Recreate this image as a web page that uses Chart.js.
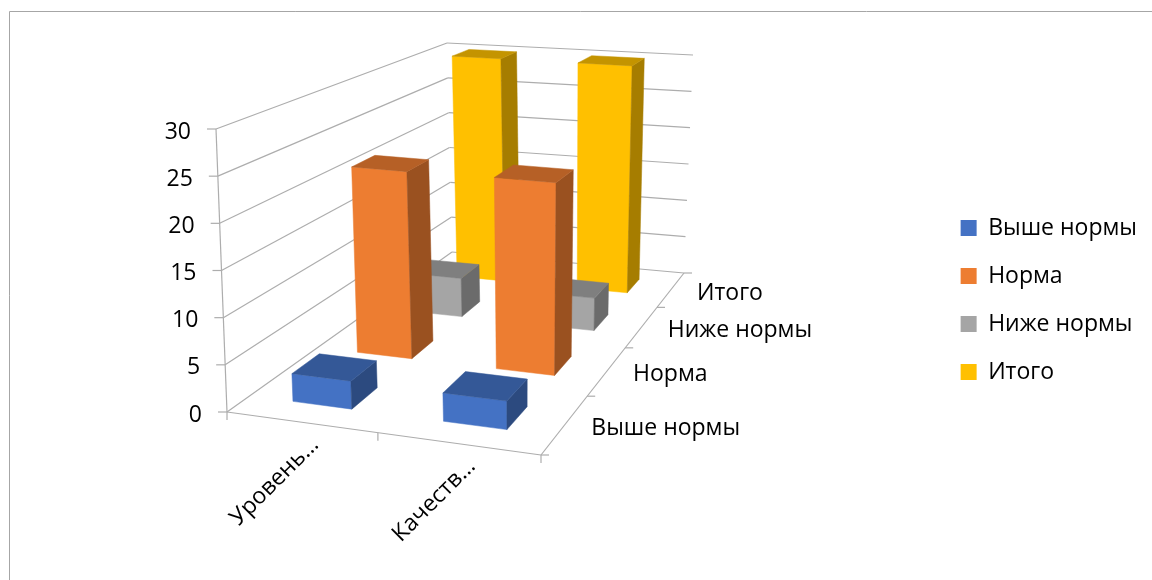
<!DOCTYPE html>
<html>
<head>
<meta charset="utf-8">
<script src="https://cdn.jsdelivr.net/npm/chart.js@4"></script>
<style>
  html, body { margin: 0; background: #fff; }
  canvas { display: block; }
</style>
</head>
<body>
<canvas id="myChart" width="1152" height="580"></canvas>
<script>
const categories = ['Уровень…', 'Качеств…'];
const seriesNames = ['Выше нормы', 'Норма', 'Ниже нормы', 'Итого'];
const aboveNorm = [3, 3];
const norm = [21.8, 22];
const belowNorm = [4.8, 4];
const total = [30, 30];
const seriesColors = ['#4472C4', '#ED7D31', '#A5A5A5', '#FFC000'];
const yTicks = [0, 5, 10, 15, 20, 25, 30];

// camera: where the box corners land on the page (front-left, front-right, back-right, back-left)
const floorCorners = [[227, 412], [541, 455], [684, 273], [452, 252]];
const topCorners = [[216, 129], [544, 160], [693, 55], [447, 43]];
const barHalfWidth = 0.1;
const barHalfDepth = 0.05;
const font = "23px 'Open Sans'";
const axisColor = '#ADADAD';

// unit square -> quad
const homography = (q) => {
  const [[x0, y0], [x1, y1], [x2, y2], [x3, y3]] = q;
  const dx1 = x1 - x2, dx2 = x3 - x2, sx = x0 - x1 + x2 - x3;
  const dy1 = y1 - y2, dy2 = y3 - y2, sy = y0 - y1 + y2 - y3;
  const den = dx1 * dy2 - dx2 * dy1;
  const g = (sx * dy2 - dx2 * sy) / den;
  const h = (dx1 * sy - sx * dy1) / den;
  const a = x1 - x0 + g * x1, b = x3 - x0 + h * x3;
  const d = y1 - y0 + g * y1, e = y3 - y0 + h * y3;
  return (u, v) => {
    const w = g * u + h * v + 1;
    return [(a * u + b * v + x0) / w, (d * u + e * v + y0) / w];
  };
};
const floorAt = homography(floorCorners);
const topAt = homography(topCorners);

const shade = (hex, f) => {
  const n = parseInt(hex.slice(1), 16);
  return `rgb(${Math.round((n >> 16) * f)},${Math.round(((n >> 8) & 255) * f)},${Math.round((n & 255) * f)})`;
};

const plugin3d = {
  id: 'plugin3d',
  beforeDatasetsDraw(chart) {
    const ctx = chart.ctx;
    const xs = chart.scales.x;
    const ys = chart.scales.y;
    const level = (value) => (ys.bottom - ys.getPixelForValue(value)) / ys.height;
    const project = (u, v, value) => {
      const f = floorAt(u, v), t = topAt(u, v), k = level(value);
      return [f[0] + (t[0] - f[0]) * k, f[1] + (t[1] - f[1]) * k];
    };
    const line = (a, b) => {
      ctx.beginPath();
      ctx.moveTo(a[0], a[1]);
      ctx.lineTo(b[0], b[1]);
      ctx.stroke();
    };
    const face = (pts, color) => {
      ctx.fillStyle = color;
      ctx.strokeStyle = color;
      ctx.lineWidth = 0.5;
      ctx.beginPath();
      pts.forEach((p, i) => (i ? ctx.lineTo(p[0], p[1]) : ctx.moveTo(p[0], p[1])));
      ctx.closePath();
      ctx.fill();
      ctx.stroke();
    };

    // frame
    ctx.strokeStyle = '#A6A6A6';
    ctx.lineWidth = 1;
    line([9.5, chart.height], [9.5, 11.5]);
    line([9.5, 11.5], [chart.width, 11.5]);

    // walls and floor
    ctx.strokeStyle = axisColor;
    ctx.lineWidth = 1.2;
    yTicks.forEach((t) => {
      const a = project(0, 0, t), b = project(0, 1, t), c = project(1, 1, t);
      line(a, b);
      line(b, c);
      line([a[0] - 9, a[1]], a);
    });
    line(project(0, 0, yTicks[0]), project(0, 0, yTicks[yTicks.length - 1]));
    line(project(0, 0, 0), project(1, 0, 0));
    line(project(1, 0, 0), project(1, 1, 0));
    [0, 0.5, 1].forEach((u) => {
      const p = project(u, 0, 0);
      line(p, [p[0], p[1] + 8]);
    });
    [0, 0.25, 0.5, 0.75, 1].forEach((v) => {
      const p = project(1, v, 0);
      line(p, [p[0] + 8, p[1]]);
    });

    // bars, back series first
    const n = chart.data.datasets.length;
    for (let s = n - 1; s >= 0; s--) {
      const ds = chart.data.datasets[s];
      const v = (s + 0.5) / n;
      ds.data.forEach((value, i) => {
        const u = (xs.getPixelForValue(i) - xs.left) / xs.width;
        const u0 = u - barHalfWidth, u1 = u + barHalfWidth;
        const v0 = v - barHalfDepth, v1 = v + barHalfDepth;
        const col = ds.backgroundColor;
        face([project(u0, v0, 0), project(u1, v0, 0), project(u1, v0, value), project(u0, v0, value)], col);
        face([project(u1, v0, 0), project(u1, v1, 0), project(u1, v1, value), project(u1, v0, value)], shade(col, 0.65));
        face([project(u0, v0, value), project(u1, v0, value), project(u1, v1, value), project(u0, v1, value)], shade(col, 0.77));
      });
    }

    // axis labels
    ctx.fillStyle = '#000';
    ctx.font = font;
    ctx.textBaseline = 'middle';
    ctx.textAlign = 'right';
    yTicks.forEach((t) => {
      const p = project(0, 0, t);
      ctx.fillText(String(t), p[0] - 25, p[1] + 3);
    });
    ctx.textAlign = 'left';
    seriesNames.forEach((name, s) => {
      const p = project(1, (s + 0.5) / n, 0);
      ctx.fillText(name, p[0] + 26, p[1] + 4);
    });
    ctx.textAlign = 'right';
    categories.forEach((name, i) => {
      const p = project((xs.getPixelForValue(i) - xs.left) / xs.width, 0, 0);
      ctx.save();
      ctx.translate(p[0] + 14, p[1] + 19);
      ctx.rotate(-Math.PI / 4);
      ctx.fillText(name, 0, 0);
      ctx.restore();
    });
    return false;
  }
};

const allValues = [aboveNorm, norm, belowNorm, total];
const myChart = new Chart(document.getElementById('myChart').getContext('2d'), {
  type: 'bar',
  data: {
    labels: categories,
    datasets: seriesNames.map((name, s) => ({
      label: name,
      data: allValues[s],
      backgroundColor: seriesColors[s]
    }))
  },
  options: {
    responsive: false,
    animation: false,
    devicePixelRatio: 1,
    layout: { padding: { top: 20, right: 5, bottom: 0, left: 0 } },
    scales: {
      x: { display: false },
      y: { display: false, min: 0, max: 30 }
    },
    plugins: {
      tooltip: { enabled: false },
      legend: {
        position: 'right',
        labels: {
          color: '#000',
          font: { family: 'Open Sans', size: 23 },
          boxWidth: 16,
          boxHeight: 16,
          padding: 25
        }
      }
    }
  },
  plugins: [plugin3d]
});
</script>
</body>
</html>
